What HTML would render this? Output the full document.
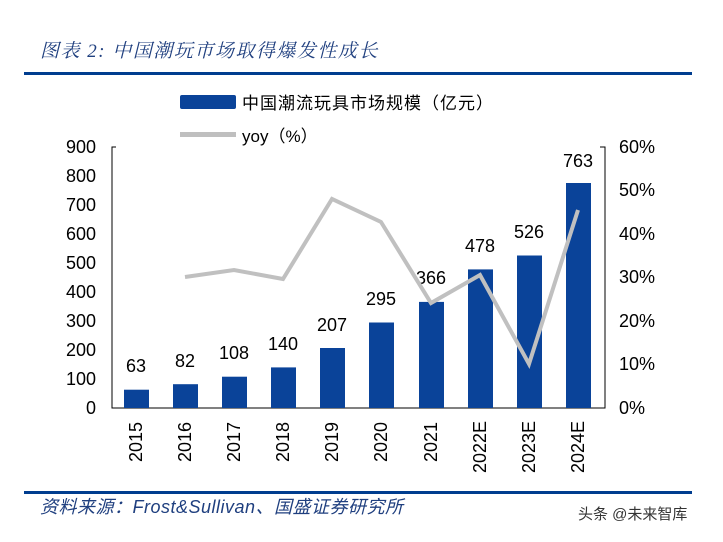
<!DOCTYPE html>
<html><head><meta charset="utf-8"><style>
body{margin:0;background:#fff;width:723px;height:537px;overflow:hidden}
</style></head><body>
<svg width="723" height="537" xmlns="http://www.w3.org/2000/svg" font-family="Liberation Sans, Noto Sans CJK SC, sans-serif">
<text x="40" y="57" font-size="19" font-style="italic" fill="#1f3f7f" letter-spacing="1.5" font-family="Liberation Serif, Noto Serif CJK SC, serif">图表 2:  中国潮玩市场取得爆发性成长</text>
<rect x="24" y="72" width="668" height="3" fill="#003d8f"/>
<rect x="180" y="95" width="56" height="14" rx="2" fill="#0a4399"/>
<text x="242" y="109" font-size="17" fill="#000" letter-spacing="1">中国潮流玩具市场规模（亿元）</text>
<rect x="180" y="132" width="56" height="5" fill="#bfbfbf"/>
<text x="242" y="142" font-size="17" fill="#000">yoy（%）</text>
<g stroke="#000" stroke-width="1" fill="none">
<path d="M116 147 H112 V408 H605 V147 H600"/>
</g>
<g font-size="18" fill="#000" text-anchor="end">
<text x="96" y="414">0</text><text x="96" y="385">100</text><text x="96" y="356">200</text><text x="96" y="327">300</text><text x="96" y="298">400</text><text x="96" y="269">500</text><text x="96" y="240">600</text><text x="96" y="211">700</text><text x="96" y="182">800</text><text x="96" y="153">900</text>
</g>
<g font-size="18" fill="#000" text-anchor="start">
<text x="619" y="414">0%</text><text x="619" y="370">10%</text><text x="619" y="327">20%</text><text x="619" y="283">30%</text><text x="619" y="240">40%</text><text x="619" y="196">50%</text><text x="619" y="153">60%</text>
</g>
<g fill="#0a4399">
<rect x="124" y="389.7" width="25" height="18.3"/>
<rect x="173" y="384.2" width="25" height="23.8"/>
<rect x="222" y="376.7" width="25" height="31.3"/>
<rect x="271" y="367.4" width="25" height="40.6"/>
<rect x="320" y="348" width="25" height="60"/>
<rect x="369" y="322.5" width="25" height="85.5"/>
<rect x="419" y="301.9" width="25" height="106.1"/>
<rect x="468" y="269.4" width="25" height="138.6"/>
<rect x="517" y="255.5" width="25" height="152.5"/>
<rect x="566" y="183" width="25" height="225"/>
</g>
<g font-size="18" fill="#000" text-anchor="middle">
<text x="136" y="372">63</text><text x="185" y="367">82</text><text x="234" y="359">108</text><text x="283" y="350">140</text><text x="332" y="331">207</text><text x="381" y="305">295</text><text x="431" y="284">366</text><text x="480" y="252">478</text><text x="529" y="238">526</text><text x="578" y="167">763</text>
</g>
<polyline points="185,277 234,270 283,279 332,199 381,222 431,303 480,275 529,364 578,210" fill="none" stroke="#c0c0c0" stroke-width="4"/>
<g font-size="18" fill="#000">
<text transform="translate(142,462) rotate(-90)">2015</text>
<text transform="translate(191,462) rotate(-90)">2016</text>
<text transform="translate(240,462) rotate(-90)">2017</text>
<text transform="translate(289,462) rotate(-90)">2018</text>
<text transform="translate(338,462) rotate(-90)">2019</text>
<text transform="translate(387,462) rotate(-90)">2020</text>
<text transform="translate(437,462) rotate(-90)">2021</text>
<text transform="translate(486,473) rotate(-90)">2022E</text>
<text transform="translate(535,473) rotate(-90)">2023E</text>
<text transform="translate(584,473) rotate(-90)">2024E</text>
</g>
<rect x="24" y="491" width="668" height="3" fill="#003d8f"/>
<text x="40" y="513" font-size="18" font-style="italic" fill="#1f3f7f" letter-spacing="0.5">资料来源：Frost&amp;Sullivan、国盛证券研究所</text>
<text x="578" y="519" font-size="15" fill="#333">头条 @未来智库</text>
</svg>
</body></html>
